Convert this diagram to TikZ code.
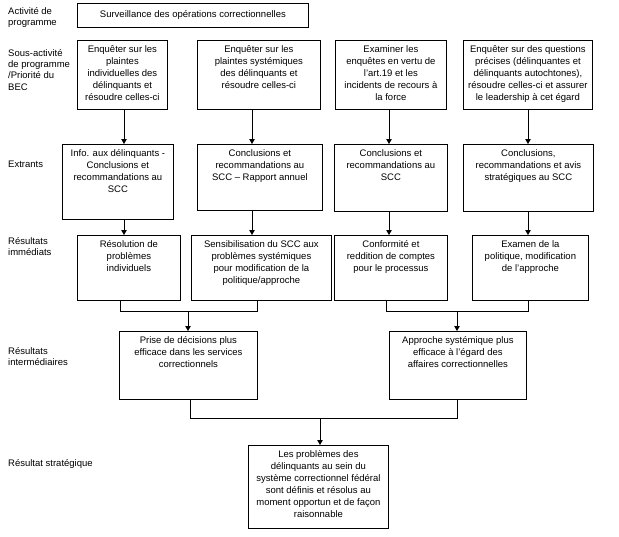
\documentclass[tikz,border=0pt]{standalone}
\usepackage{fontspec}
\setmainfont{Liberation Sans}
\usetikzlibrary{arrows.meta,calc}
\newcommand\bxnode[6]{%
  \node[bx, minimum width=#4pt, minimum height=#5pt] (#1) at (#2,#3)
    {\parbox[c][#5pt][t]{#4pt}{\centering\vspace*{3.6pt}\strut #6\par}};}
\begin{document}
\begin{tikzpicture}[x=1pt,y=-1pt,
  font=\fontsize{9.5}{12}\selectfont,
  bx/.style={draw, line width=0.8pt, anchor=north west, inner sep=0pt},
  lab/.style={anchor=north west, align=left, inner sep=0pt, font=\fontsize{9.5}{11.4}\selectfont},
  ln/.style={line width=0.8pt},
  arr/.style={line width=0.8pt, -{Triangle[width=5.5pt,length=5pt]}}]
\useasboundingbox (0,0) rectangle (619,536);

% left labels
\node[lab] (L1) at (8,7) {Activité de\\programme};
\node[lab] (L2) at (8,49) {Sous-activité\\de programme\\/Priorité du\\BEC};
\node[lab, anchor=base west] (L3) at (8,167) {Extrants};
\node[lab] (L4) at (8,237) {Résultats\\immédiats};
\node[lab] (L5) at (8,347) {Résultats\\intermédiaires};
\node[lab, anchor=base west] (L6) at (8,466) {Résultat stratégique};

% top box
\node[bx, minimum width=231pt, minimum height=24pt] (top) at (77,3)
  {\parbox[c][24pt][c]{231pt}{\centering Surveillance des opérations correctionnelles}};

% sub-activities
\bxnode{s1}{77}{40}{90}{69}{Enquêter sur les\\plaintes\\individuelles des\\délinquants et\\résoudre celles-ci}
\bxnode{s2}{197}{40}{123}{69}{Enquêter sur les\\plaintes systémiques\\des délinquants et\\résoudre celles-ci}
\bxnode{s3}{335}{40}{111}{69}{Examiner les\\enquêtes en vertu de\\l'art.19 et les\\incidents de recours à\\la force}
\bxnode{s4}{463}{40}{129}{69}{Enquêter sur des questions\\précises (délinquantes et\\délinquants autochtones),\\résoudre celles-ci et assurer\\le leadership à cet égard}

% outputs
\bxnode{e1}{62}{144}{111}{75}{Info. aux délinquants -\\Conclusions et\\recommandations au\\SCC}
\bxnode{e2}{197}{144}{125}{66}{Conclusions et\\recommandations au\\SCC – Rapport annuel}
\bxnode{e3}{334}{144}{113}{67}{Conclusions et\\recommandations au\\SCC}
\bxnode{e4}{463}{144}{130}{67}{Conclusions,\\recommandations  et avis\\stratégiques au SCC}

% immediate results
\bxnode{r1}{77}{235}{103}{65}{Résolution de\\problèmes\\individuels}
\bxnode{r2}{191}{235}{140}{65}{Sensibilisation du SCC aux\\problèmes systémiques\\pour modification de la\\politique/approche}
\bxnode{r3}{334}{235}{113}{65}{Conformité et\\reddition de comptes\\pour le processus}
\bxnode{r4}{472}{235}{116}{65}{Examen de la\\politique, modification\\de l'approche}

% intermediate results
\bxnode{i1}{119}{331}{138}{68}{Prise de décisions plus\\efficace dans les services\\correctionnels}
\bxnode{i2}{389}{331}{137}{68}{Approche systémique plus\\efficace à l'égard des\\affaires correctionnelles}

% strategic result
\bxnode{st}{248}{445}{140}{83}{Les problèmes des\\délinquants au sein du\\système correctionnel fédéral\\sont définis et résolus au\\moment opportun et de façon\\raisonnable}

% connector coordinates
\coordinate (c1) at (124,0);
\coordinate (c2) at (252,0);
\coordinate (c3) at (389,0);
\coordinate (c4) at (528,0);
\coordinate (l1) at (120,311);
\coordinate (l2) at (257,311);
\coordinate (m1) at (188,311);
\coordinate (l3) at (386,311);
\coordinate (l4) at (528,311);
\coordinate (m2) at (457,311);
\coordinate (l5) at (190,418);
\coordinate (l6) at (457,418);
\coordinate (m3) at (320,418);

% arrows sub-activity -> outputs
\draw[arr] (s1.south -| c1) -- (e1.north -| c1);
\draw[arr] (s2.south -| c2) -- (e2.north -| c2);
\draw[arr] (s3.south -| c3) -- (e3.north -| c3);
\draw[arr] (s4.south -| c4) -- (e4.north -| c4);
% outputs -> immediate results
\draw[arr] (e1.south -| c1) -- (r1.north -| c1);
\draw[arr] (e2.south -| c2) -- (r2.north -| c2);
\draw[arr] (e3.south -| c3) -- (r3.north -| c3);
\draw[arr] (e4.south -| c4) -- (r4.north -| c4);
% immediate -> intermediate
\draw[ln] (r1.south -| l1) |- (l2) -- (r2.south -| l2);
\draw[arr] (m1) -- (i1.north -| m1);
\draw[ln] (r3.south -| l3) |- (l4) -- (r4.south -| l4);
\draw[arr] (m2) -- (i2.north -| m2);
% intermediate -> strategic
\draw[ln] (i1.south -| l5) |- (l6) -- (i2.south -| l6);
\draw[arr] (m3) -- (st.north -| m3);
\end{tikzpicture}
\end{document}
